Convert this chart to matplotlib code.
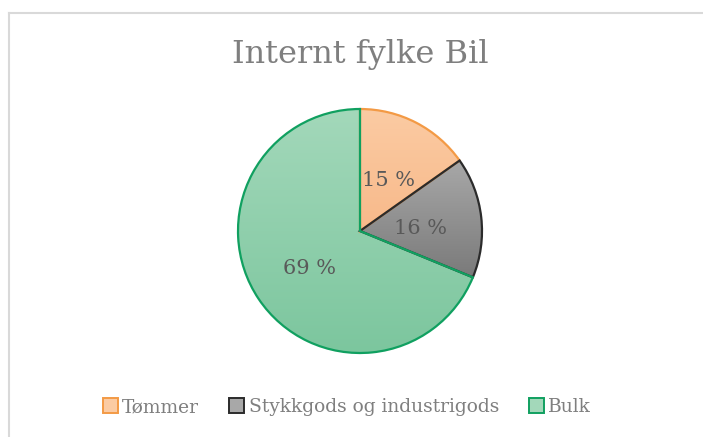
import numpy as np
import matplotlib
matplotlib.use("Agg")
import matplotlib.pyplot as plt
from matplotlib.patches import Patch
from matplotlib.lines import Line2D
from matplotlib.colors import LinearSegmentedColormap

plt.rcParams['font.family'] = ['DejaVu Serif']

title = "Internt fylke Bil"
labels = ["Tømmer", "Stykkgods og industrigods", "Bulk"]
values = [15.2, 16.0, 68.8]
top_colors = ["#FBCBA3", "#A8A8A8", "#A3D8BA"]
bottom_colors = ["#F8B98A", "#7A7A7A", "#7CC69E"]
edge_colors = ["#F39A45", "#2B2B2B", "#10A060"]

fig = plt.figure(figsize=(7.03, 4.37), dpi=100)
W, H = 703, 437
cx, cy, r = 360, 231, 122
ax = fig.add_axes([(cx - r) / W, (H - cy - r) / H, 2 * r / W, 2 * r / H])

wedges, texts, autotexts = ax.pie(values, startangle=90, counterclock=False,
                                  radius=1, autopct='%.0f %%', pctdistance=0.5,
                                  textprops=dict(fontsize=15, color='#595959'),
                                  wedgeprops=dict(linewidth=1.6))

for i, (w, tc, bc, ec) in enumerate(zip(wedges, top_colors, bottom_colors, edge_colors)):
    w.set_facecolor('none')
    w.set_edgecolor(ec)
    w.set_zorder(3 + (0.5 if i == 2 else 0))
    # vertical gradient clipped to the wedge
    th = np.linspace(np.radians(w.theta1), np.radians(w.theta2), 200)
    ys = np.concatenate([np.sin(th), [0]])
    y0, y1 = ys.min(), ys.max()
    cmap = LinearSegmentedColormap.from_list('g', [bc, tc])
    grad = np.linspace(0, 1, 256).reshape(-1, 1)
    im = ax.imshow(grad, cmap=cmap, extent=[-1, 1, y0, y1], origin='lower',
                   aspect='auto', zorder=2)
    im.set_clip_path(w)

ax.set_xlim(-1, 1)
ax.set_ylim(-1, 1)
ax.set_aspect('equal')
ax.axis('off')

for t in autotexts:
    t.set_zorder(5)
    x, y = t.get_position()
    t.set_position((x, y - 0.033))

fig.text(cx / W, 1 - 55 / H, title, ha='center', va='center',
         fontsize=23, color='#7F7F7F')

handles = [Patch(facecolor=tc, edgecolor=ec, linewidth=1.4)
           for tc, ec in zip(top_colors, edge_colors)]
fig.legend(handles, labels, loc='center', bbox_to_anchor=(347 / W, 1 - 407 / H),
           ncol=3, frameon=False, fontsize=13.4, labelcolor='#7F7F7F',
           handlelength=0.8, handleheight=0.8, handletextpad=0.25,
           columnspacing=1.6)

# chart frame (partly visible)
fig.add_artist(Line2D([9 / W, 1], [1 - 12.5 / H, 1 - 12.5 / H], color='#D9D9D9', lw=1.5))
fig.add_artist(Line2D([9 / W, 9 / W], [0, 1 - 12.5 / H], color='#D9D9D9', lw=1.5))

fig.savefig("out.png", dpi=100)
